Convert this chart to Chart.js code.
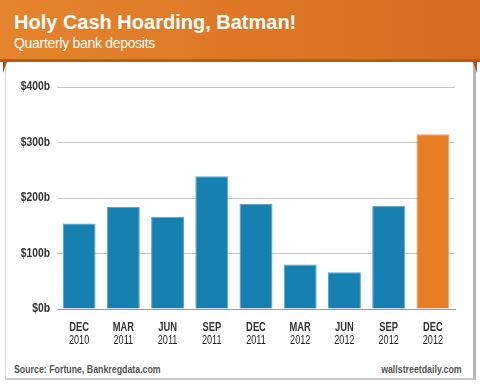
<!DOCTYPE html>
<html><head><meta charset="utf-8">
<script src="https://cdn.jsdelivr.net/npm/chart.js@4"></script>
<style>
html,body{margin:0;padding:0;background:#fff;}
#wrap{position:relative;width:480px;height:384px;overflow:hidden;background:#fff;font-family:"Liberation Sans",Arial,sans-serif;}
#panel{position:absolute;left:5px;top:58px;width:467px;height:320px;background:#fff;border-left:1px solid #ddd;border-right:3px solid #b5b5b5;border-bottom:2px solid #c8c8c8;box-sizing:content-box;}
#head{position:absolute;left:0;top:0;width:480px;height:59px;background:linear-gradient(to right,#e5842c,#d66b20);border-bottom:3px solid #b85a1c;}
#t1{position:absolute;left:14px;top:11px;color:#fff;font-weight:bold;font-size:20px;white-space:nowrap;}
#t2{position:absolute;left:14px;top:35px;color:#fff;font-size:14px;letter-spacing:-0.3px;white-space:nowrap;}
.tri{position:absolute;top:62px;width:0;height:0;}
#triL{left:3px;border-top:11px solid #a85418;border-right:4px solid transparent;}
#triR{left:473px;border-top:11px solid #a85418;border-left:4px solid transparent;}
#cv{position:absolute;left:0;top:62px;width:480px;height:300px;}
.foot{position:absolute;top:362px;color:#555;font-family:"Liberation Sans",Arial,sans-serif;font-weight:bold;font-size:11px;line-height:14px;white-space:nowrap;transform:scaleX(0.8);}
</style></head>
<body><div id="wrap">
<div id="panel"></div>
<div id="head"><div id="t1">Holy Cash Hoarding, Batman!</div><div id="t2">Quarterly bank deposits</div></div>
<div class="tri" id="triL"></div><div class="tri" id="triR"></div>
<div id="cv"><canvas id="c"></canvas></div>
<div class="foot" style="left:14px;transform-origin:left center">Source: Fortune, Bankregdata.com</div>
<div class="foot" style="right:18px;transform-origin:right center">wallstreetdaily.com</div>
</div>
<script>
const categories = [["DEC","2010"],["MAR","2011"],["JUN","2011"],["SEP","2011"],["DEC","2011"],["MAR","2012"],["JUN","2012"],["SEP","2012"],["DEC","2012"]];
const deposits = [154, 184, 166, 239, 189, 80, 66, 186, 315];
const yTicks = [0, 100, 200, 300, 400];
const tickLabel = v => "$" + v + "b";

const colors = deposits.map((v,i) => i === deposits.length-1 ? "#e87e24" : "#1681b1");
const borders = deposits.map((v,i) => i === deposits.length-1 ? "#f0a060" : "#5aa6cf");
const fam = '"Liberation Sans",Arial,sans-serif';

// condensed look for the canvas text: squeeze text horizontally around its anchor
const condensePlugin = {
  id: "condense",
  beforeInit(chart) {
    const ctx = chart.ctx;
    const orig = ctx.fillText.bind(ctx);
    ctx.fillText = function(t, x, y, mw) {
      ctx.save();
      const s = String(t);
      let sx = 0.78;
      if (s.charAt(0) === "$") sx = 0.86;
      else if (/^\d{4}$/.test(s)) { ctx.font = ctx.font.replace("bold", "normal"); ctx.fillStyle = "#222"; sx = 0.76; }
      ctx.translate(x, y); ctx.scale(sx, 1);
      if (mw !== undefined) orig(t, 0, 0, mw); else orig(t, 0, 0);
      ctx.restore();
    };
  }
};

new Chart(document.getElementById("c"), {
  type: "bar",
  data: { labels: categories, datasets: [{ data: deposits, backgroundColor: colors, borderColor: borders, borderWidth: 1, barPercentage: 0.745, categoryPercentage: 1 }] },
  options: {
    responsive: true, maintainAspectRatio: false, animation: false,
    layout: { padding: { top: 25, right: 25, left: 0, bottom: 0 } },
    plugins: { legend: { display: false }, tooltip: { enabled: false } },
    scales: {
      x: {
        grid: { display: false, drawTicks: false },
        border: { display: true, color: "#999", width: 1 },
        ticks: { color: "#333", padding: 12, maxRotation: 0, autoSkip: false, font: { family: fam, weight: "bold", size: 12, lineHeight: 1.08 } },
        afterFit: s => { s.height = 53; }
      },
      y: {
        min: 0, max: 400,
        afterBuildTicks: s => { s.ticks = yTicks.map(v => ({ value: v })); },
        grid: { color: "#c4c4c4", borderDash: [1, 2], drawTicks: false, lineWidth: 1 },
        border: { display: false },
        ticks: { color: "#333", padding: 7, callback: v => tickLabel(v), font: { family: fam, weight: "bold", size: 12 } },
        afterFit: s => { s.width = 57; }
      }
    }
  },
  plugins: [condensePlugin]
});
</script>
</body></html>
